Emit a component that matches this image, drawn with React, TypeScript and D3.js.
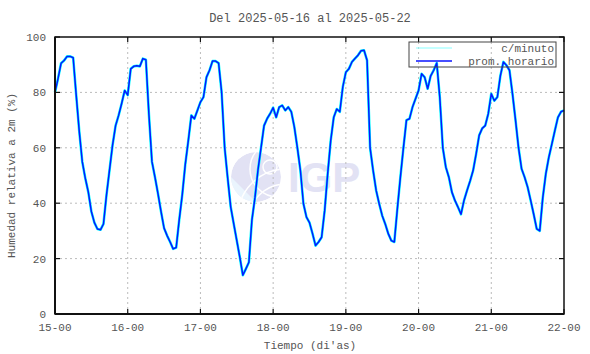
import * as d3 from "d3";

// promedio horario, humedad relativa (%), una lista por día
const day15 = [80, 85, 90.5, 91.5, 93, 93, 92.5, 79, 66, 55, 49, 44, 37, 33, 30.7, 30.4, 32.5, 43, 52, 61, 68, 71.7, 76, 80.7];
const day16 = [79, 88.5, 89.4, 89.6, 89.4, 92.2, 91.8, 72, 55, 49.4, 43.4, 37, 31, 28.3, 26, 23.5, 24, 34, 43, 54, 62.6, 71.7, 70.5, 73.5];
const day17 = [76.5, 78.3, 85.5, 88, 91.3, 91.3, 90.6, 80, 60, 49, 38.6, 32.5, 26.5, 20.5, 14, 16.3, 18.7, 34, 42, 52, 60, 68, 70.5, 72.3];
const day18 = [74.5, 71, 74.7, 75.3, 73.5, 74.7, 73, 67.5, 60, 51.8, 39.8, 35, 33, 29, 24.7, 26, 27.7, 37.3, 50.6, 62.6, 71, 74, 73, 82];
const day19 = [87.3, 88.5, 91, 92.2, 93.4, 95, 95.2, 91.6, 60, 51.8, 44.6, 39.8, 35.5, 32.5, 29, 26.5, 26, 38, 49.4, 60, 70, 70.5, 74.7, 77.7];
const day20 = [80.7, 86.7, 85.5, 81.3, 86, 88, 90.6, 78.3, 60, 53, 49.4, 44, 41, 38.6, 36, 41, 44.6, 48, 51.8, 57.8, 64.5, 67, 68, 72.3];
const day21 = [79.5, 77, 78.3, 86, 91, 89.8, 88, 79.5, 70, 60, 52.4, 49.4, 45.8, 41, 36, 30.7, 30, 42, 50.6, 56.6, 61.4, 66.3, 71, 73];
const day22 = [73.5];

const xTickLabels = ["15-00", "16-00", "17-00", "18-00", "19-00", "20-00", "21-00", "22-00"];
const yTicks = [0, 20, 40, 60, 80, 100];

const hourly = [...day15, ...day16, ...day17, ...day18, ...day19, ...day20, ...day21, ...day22];

export default function App() {
  const width = 590;
  const height = 354;
  const margin = { top: 37, right: 26, bottom: 40, left: 55 };
  const innerW = width - margin.left - margin.right;
  const innerH = height - margin.top - margin.bottom;

  const x = d3.scaleLinear().domain([0, 7 * 24]).range([0, innerW]);
  const y = d3.scaleLinear().domain([0, 100]).range([innerH, 0]);

  const line = d3
    .line<number>()
    .x((_, i) => x(i))
    .y((d) => y(d));

  const font = "'Liberation Mono', 'DejaVu Sans Mono', monospace";
  const textColor = "#555";

  // marca de agua
  const cx = 201;
  const cy = 140;
  const r = 25;

  return (
    <svg width={width} height={height} style={{ position: "absolute", left: 0, top: 0, background: "#fff" }}>
      <text x={310} y={22} textAnchor="middle" fontFamily={font} fontSize={12} fill={textColor}>
        Del 2025-05-16 al 2025-05-22
      </text>

      <g transform={`translate(${margin.left},${margin.top})`}>
        <defs>
          <clipPath id="logo">
            <circle cx={cx} cy={cy} r={r} />
          </clipPath>
        </defs>
        <g clipPath="url(#logo)">
          <circle cx={cx} cy={cy} r={r} fill="#e2e2f4" />
          <path d={`M ${cx - r} ${cy} L ${cx} ${cy + r} L ${cx - r} ${cy + r} Z`} fill="#eaf4fd" />
          <circle cx={cx + 30} cy={cy + 40} r={48} stroke="#fff" strokeWidth={1.5} fill="none" />
          <circle cx={cx + 30} cy={cy + 45} r={38} stroke="#fff" strokeWidth={1.5} fill="none" />
          <circle cx={cx + 30} cy={cy + 48} r={28} stroke="#fff" strokeWidth={1.5} fill="none" />
          <circle cx={cx + 22} cy={cy - 8} r={28} stroke="#fff" strokeWidth={1.5} fill="none" />
          <circle cx={cx + 14} cy={cy - 10} r={7} stroke="#fff" strokeWidth={1.5} fill="none" />
        </g>
        <text x={233} y={155} fontFamily="'Liberation Sans', Arial, sans-serif" fontWeight={700} fontSize={42} fill="#e2e2f4">
          IGP
        </text>

        {/* rejilla */}
        {xTickLabels.map((_, i) =>
          i > 0 && i < 7 ? (
            <line key={`gx${i}`} x1={x(i * 24)} x2={x(i * 24)} y1={0} y2={innerH} stroke="#bbb" strokeDasharray="2,3" strokeWidth={1} />
          ) : null
        )}
        {yTicks.map((t) =>
          t > 0 && t < 100 ? (
            <line key={`gy${t}`} x1={0} x2={innerW} y1={y(t)} y2={y(t)} stroke="#bbb" strokeDasharray="2,3" strokeWidth={1} />
          ) : null
        )}

        {/* series */}
        <path d={line(hourly) ?? ""} fill="none" stroke="#00ffff" strokeWidth={2.6} strokeLinejoin="round" />
        <path d={line(hourly) ?? ""} fill="none" stroke="#0a14ff" strokeWidth={1.5} strokeLinejoin="round" />

        {/* marco */}
        <rect x={0} y={0} width={innerW} height={innerH} fill="none" stroke="#111" strokeWidth={1.5} />
        <line x1={0} x2={innerW} y1={innerH} y2={innerH} stroke="#111" strokeWidth={2} />
        <line x1={0} x2={0} y1={0} y2={innerH} stroke="#111" strokeWidth={2} />

        {xTickLabels.map((lab, i) => (
          <g key={lab}>
            <line x1={x(i * 24)} x2={x(i * 24)} y1={innerH} y2={innerH - 5} stroke="#111" strokeWidth={1.2} />
            <line x1={x(i * 24)} x2={x(i * 24)} y1={0} y2={5} stroke="#111" strokeWidth={1.2} />
            <text x={x(i * 24)} y={innerH + 17} textAnchor="middle" fontFamily={font} fontSize={11} fill={textColor}>
              {lab}
            </text>
          </g>
        ))}
        {yTicks.map((t) => (
          <g key={t}>
            <line x1={0} x2={5} y1={y(t)} y2={y(t)} stroke="#111" strokeWidth={1.2} />
            <line x1={innerW} x2={innerW - 5} y1={y(t)} y2={y(t)} stroke="#111" strokeWidth={1.2} />
            <text x={-9} y={y(t) + 4} textAnchor="end" fontFamily={font} fontSize={11} fill={textColor}>
              {t}
            </text>
          </g>
        ))}

        {/* leyenda */}
        <g transform={`translate(${354},${5})`}>
          <rect x={0} y={0} width={147} height={25} fill="none" stroke="#444" strokeWidth={1} />
          <line x1={7} x2={43} y1={6} y2={6} stroke="#8ff" strokeWidth={1} />
          <line x1={7} x2={43} y1={19} y2={19} stroke="#0a14ff" strokeWidth={1.5} />
          <text x={145} y={10} textAnchor="end" fontFamily={font} fontSize={11} fill={textColor}>
            c/minuto
          </text>
          <text x={145} y={23} textAnchor="end" fontFamily={font} fontSize={11} fill={textColor}>
            prom. horario
          </text>
        </g>
      </g>

      <text x={310} y={349} textAnchor="middle" fontFamily={font} fontSize={11} fill={textColor}>
        Tiempo (di'as)
      </text>
      <text
        transform={`translate(15,${margin.top + innerH / 2}) rotate(-90)`}
        textAnchor="middle"
        fontFamily={font}
        fontSize={11}
        fill={textColor}
      >
        Humedad relativa a 2m (%)
      </text>
    </svg>
  );
}
